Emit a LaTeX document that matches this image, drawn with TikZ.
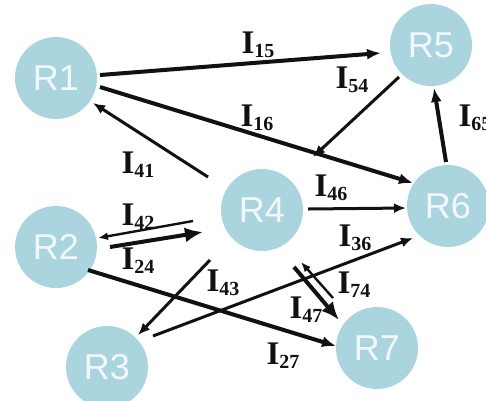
\documentclass[tikz,border=0pt]{standalone}
\usepackage{fontspec}
\setmainfont{Liberation Serif}
\newfontfamily\circfont{Liberation Sans}
\usetikzlibrary{arrows.meta,calc}
\definecolor{rcol}{RGB}{170,213,222}
\definecolor{ink}{RGB}{17,17,17}
\newcommand{\Ilab}[1]{{\fontsize{33}{33}\selectfont I}\raisebox{-4pt}{\fontsize{20}{20}\selectfont #1}}
\tikzset{
  router/.style={circle,fill=rcol,minimum size=82pt,inner sep=0pt,
    text=white,text opacity=0.85,font=\circfont\fontsize{36}{36}\selectfont},
  lab/.style={inner sep=0pt,font=\bfseries,text=ink},
  arrA/.style={draw=ink,line width=4pt,-{Latex[length=14pt,width=11pt]}},
  arrB/.style={draw=ink,line width=3pt,-{Latex[length=12pt,width=10pt]}},
  arrC/.style={draw=ink,line width=2.4pt,-{Latex[length=10pt,width=8pt]}},
  arrD/.style={draw=ink,line width=4pt,-{Latex[length=18pt,width=15pt]}}
}
\begin{document}
\begin{tikzpicture}[x=1pt,y=-1pt]
\useasboundingbox (0,0) rectangle (486,400);
\node[router] (R1) at (56,78) {R1};
\node[router] (R2) at (56,247) {R2};
\node[router] (R3) at (107,367) {R3};
\node[router] (R4) at (262,210) {R4};
\node[router] (R5) at (431,45) {R5};
\node[router] (R6) at (448,206) {R6};
\node[router] (R7) at (377,348) {R7};

\draw[arrA] ($(R1)+(44,-3)$) -- ($(R5)+(-50,8)$);
\draw[arrA] ($(R1)+(44,9)$) -- ($(R6)+(-35,-23)$);
\draw[arrB] ($(R5)+(-32,32)$) -- ($(R4)+(51,-53)$);
\draw[arrA] ($(R6)+(-2,-44)$) -- ($(R5)+(3,43)$);
\draw[arrB] ($(R4)+(-54,-33)$) -- ($(R1)+(37,25)$);
\draw[arrB] ($(R4)+(46,-1)$) -- ($(R6)+(-42,2)$);
\draw[arrC] ($(R4)+(-69,11)$) -- ($(R2)+(42,-9)$);
\draw[arrD] ($(R2)+(54,0)$) -- ($(R4)+(-59,22)$);
\draw[arrA] ($(R2)+(32,23)$) -- ($(R7)+(-41,-2)$);
\draw[arrB] ($(R4)+(-52,50)$) -- ($(R3)+(31,-32)$);
\draw[arrB] ($(R3)+(46,-31)$) -- ($(R6)+(-35,32)$);
\draw[arrC] ($(R7)+(-44,-50)$) -- ($(R4)+(39,52)$);
\draw[arrD] ($(R4)+(32,57)$) -- ($(R7)+(-38,-28)$);

\node[lab] (l15) at (258,45) {\Ilab{15}};
\node[lab] (l54) at (352,80) {\Ilab{54}};
\node[lab] (l16) at (257,118) {\Ilab{16}};
\node[lab] (l65) at (475,118) {\Ilab{65}};
\node[lab] (l41) at (138,165) {\Ilab{41}};
\node[lab] (l46) at (331,188) {\Ilab{46}};
\node[lab] (l42) at (138,217) {\Ilab{42}};
\node[lab] (l24) at (138,261) {\Ilab{24}};
\node[lab] (l43) at (223,283) {\Ilab{43}};
\node[lab] (l36) at (355,238) {\Ilab{36}};
\node[lab] (l74) at (354,285) {\Ilab{74}};
\node[lab] (l47) at (306,310) {\Ilab{47}};
\node[lab] (l27) at (283,356) {\Ilab{27}};
\end{tikzpicture}
\end{document}
